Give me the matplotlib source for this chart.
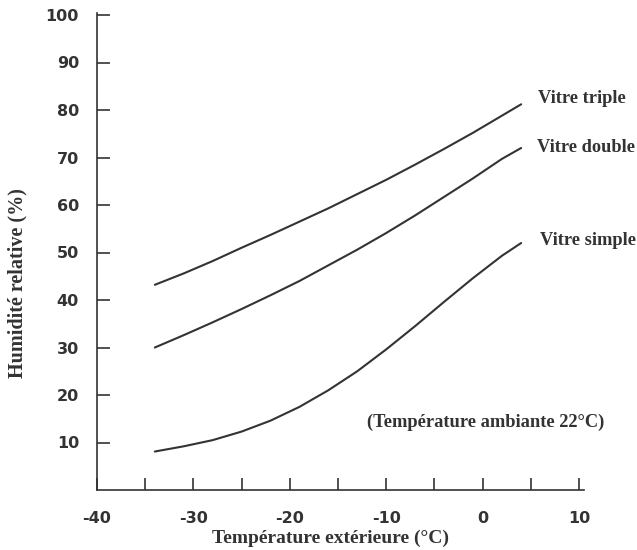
import matplotlib
matplotlib.use("Agg")
import matplotlib.pyplot as plt

# Data
temp_ext = [-34, -31, -28, -25, -22, -19, -16, -13, -10, -7, -4, -1, 2, 4]
vitre_triple = [43.2, 45.6, 48.2, 51.0, 53.7, 56.5, 59.3, 62.3, 65.3, 68.5, 71.8, 75.2, 78.8, 81.2]
vitre_double = [30.0, 32.6, 35.3, 38.1, 41.0, 44.0, 47.3, 50.6, 54.1, 57.8, 61.7, 65.6, 69.7, 72.0]
vitre_simple = [8.1, 9.2, 10.5, 12.3, 14.6, 17.5, 21.0, 25.0, 29.6, 34.5, 39.6, 44.6, 49.3, 52.0]

series_labels = ["Vitre triple", "Vitre double", "Vitre simple"]
label_pos = [(5.75, 82.5), (5.65, 72.2), (5.95, 52.6)]

x_ticks = [-40, -35, -30, -25, -20, -15, -10, -5, 0, 5, 10]
x_labels = ["-40", "", "-30", "", "-20", "", "-10", "", "0", "", "10"]
y_ticks = [10, 20, 30, 40, 50, 60, 70, 80, 90, 100]

ink = "#333333"
serif = ["Liberation Serif", "DejaVu Serif"]

fig = plt.figure(figsize=(6.37, 5.5), dpi=100)
ax = fig.add_axes([97 / 637, 60 / 550, 486.8 / 637, 476.9 / 550])

for ys in (vitre_triple, vitre_double, vitre_simple):
    ax.plot(temp_ext, ys, color=ink, lw=1.5, solid_capstyle="round")

ax.set_xlim(-40, 10.5)
ax.set_ylim(0, 100.4)

for s in ("top", "right"):
    ax.spines[s].set_visible(False)
for s in ("left", "bottom"):
    ax.spines[s].set_linewidth(1.2)
    ax.spines[s].set_color(ink)

ax.set_xticks(x_ticks)
ax.set_xticklabels(x_labels)
ax.tick_params(axis="x", direction="in", length=9, width=1.2, color=ink, pad=15,
               labelsize=11.5, labelcolor=ink)
ax.set_yticks(y_ticks)
ax.set_yticklabels([str(t) for t in y_ticks])
ax.tick_params(axis="y", direction="in", length=9, width=1.2, color=ink, pad=13,
               labelsize=11.5, labelcolor=ink)
for lab in ax.get_xticklabels() + ax.get_yticklabels():
    lab.set_fontweight("bold")
    lab.set_family(["DejaVu Sans"])

ax.set_xlabel("Température extérieure (°C)", family=serif, fontweight="bold",
              fontsize=14, color=ink)
ax.xaxis.set_label_coords(0.479, -0.083)
ax.set_ylabel("Humidité relative (%)", family=serif, fontweight="bold",
              fontsize=14.5, color=ink)
ax.yaxis.set_label_coords(-0.142, 0.434)

for lab, (lx, ly) in zip(series_labels, label_pos):
    ax.text(lx, ly, lab, family=serif, fontweight="bold", fontsize=13.2,
            color=ink, ha="left", va="center", clip_on=False)

ax.text(-12.0, 14.3, "(Température ambiante 22°C)", family=serif, fontweight="bold",
        fontsize=13.3, color=ink, ha="left", va="center")

fig.savefig("out.png", dpi=100)
